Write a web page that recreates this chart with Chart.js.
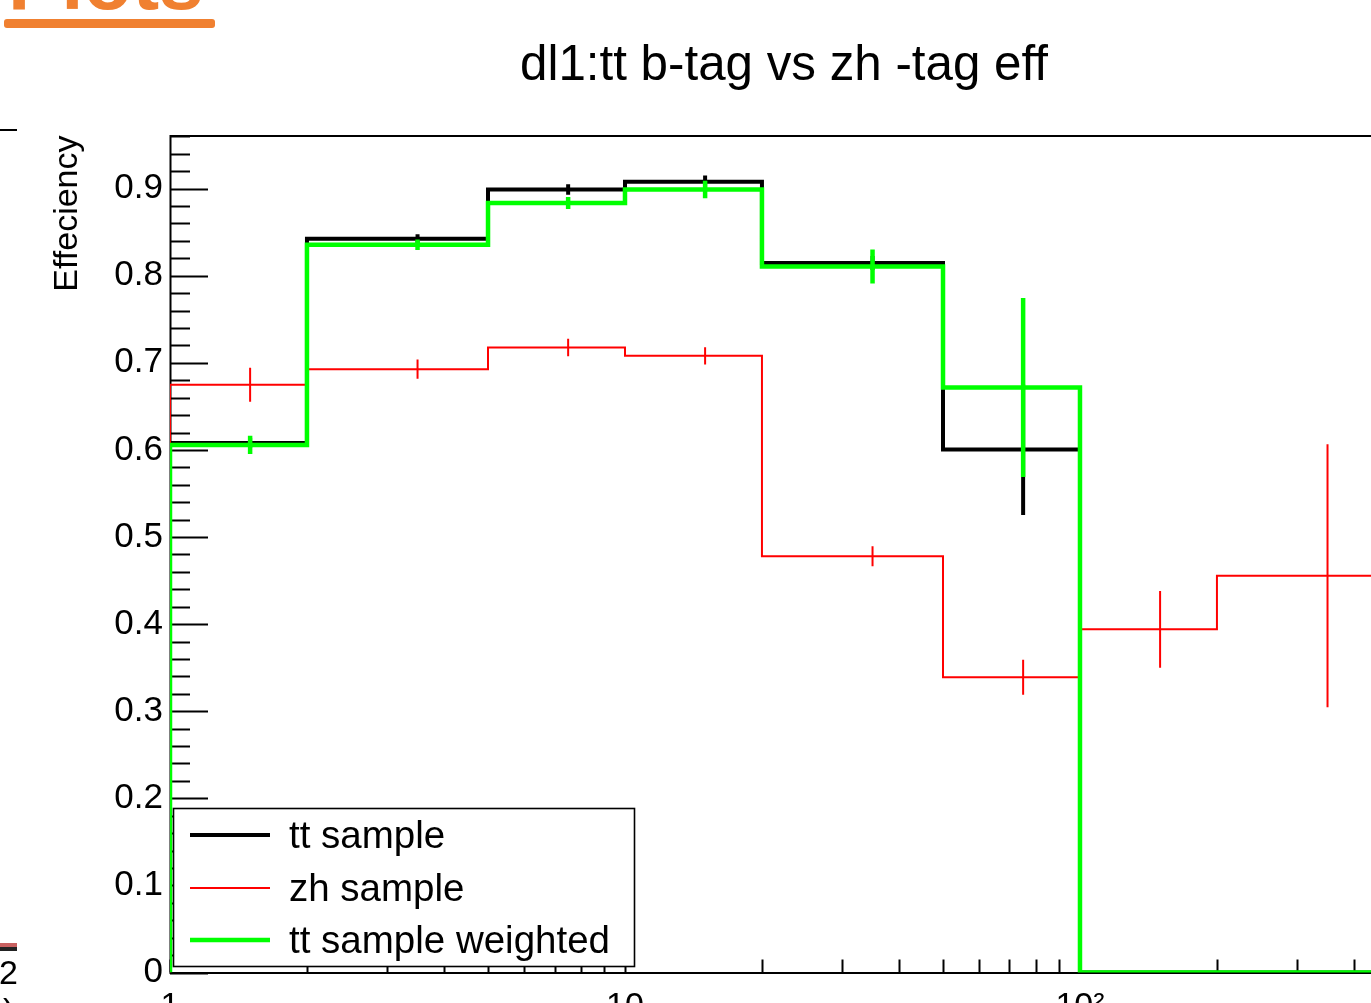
<!DOCTYPE html>
<html>
<head>
<meta charset="utf-8">
<script src="https://cdn.jsdelivr.net/npm/chart.js@4/dist/chart.umd.min.js"></script>
<style>
  html, body { margin: 0; padding: 0; background: #fff; overflow: hidden; width: 1371px; height: 1003px; }
  #wrap { position: absolute; left: 0; top: 0; width: 1420px; height: 1003px; }
  canvas { display: block; }
</style>
</head>
<body>
<div id="wrap"><canvas id="c" width="1420" height="1003"></canvas></div>
<script>
// ---------------- data ----------------
const chartTitle = 'dl1:tt b-tag vs zh -tag eff';
const yTitle = 'Effeciency';
const binEdges = [1, 2, 5, 10, 20, 50, 100, 200, 500];

const ttEff   = [0.608, 0.8425, 0.899, 0.908, 0.8146, 0.6004, 0, 0];
const ttErr   = [0.006, 0.005, 0.006, 0.007, 0.008, 0.075, 0, 0];

const zhEff   = [0.6747, 0.6927, 0.7176, 0.708, 0.478, 0.339, 0.394, 0.4555];
const zhErr   = [0.0195, 0.011, 0.010, 0.010, 0.0115, 0.02, 0.044, 0.151];

const ttwEff  = [0.6057, 0.8356, 0.8835, 0.899, 0.8107, 0.6716, 0, 0];
const ttwErr  = [0.0105, 0.006, 0.007, 0.010, 0.0195, 0.1027, 0, 0];

const yTickValues = [0, 0.1, 0.2, 0.3, 0.4, 0.5, 0.6, 0.7, 0.8, 0.9];
const yTickLabels = ['0', '0.1', '0.2', '0.3', '0.4', '0.5', '0.6', '0.7', '0.8', '0.9'];
const xTickValues = [1, 10, 100];
const xTickLabels = ['1', '10', '10\u00B2'];
const legendLabels = ['tt sample', 'zh sample', 'tt sample weighted'];

// ---------------- build step / error points ----------------
function stepPoints(vals) {
  const pts = [{ x: binEdges[0], y: 0 }];
  for (let i = 0; i < vals.length; i++) {
    pts.push({ x: binEdges[i], y: vals[i] });
    pts.push({ x: binEdges[i + 1], y: vals[i] });
  }
  pts.push({ x: binEdges[vals.length], y: 0 });
  return pts;
}
function errPoints(vals, errs) {
  const pts = [];
  for (let i = 0; i < vals.length; i++) {
    if (!errs[i]) continue;
    const c = (binEdges[i] + binEdges[i + 1]) / 2;
    pts.push({ x: c, y: vals[i] - errs[i] });
    pts.push({ x: c, y: vals[i] + errs[i] });
    pts.push({ x: c, y: null });
  }
  return pts;
}

const FONT = "'Liberation Sans', Arial, Helvetica, sans-serif";
const BLACK = '#000000', RED = '#ff0000', GREEN = '#00ff00';
const W_BLACK = 4, W_RED = 2, W_GREEN = 4.5;

function lineDs(label, data, color, width, order) {
  return {
    label, data, borderColor: color, backgroundColor: color, borderWidth: width,
    pointRadius: 0, pointHoverRadius: 0, tension: 0, spanGaps: false, fill: false,
    borderJoinStyle: 'miter', borderCapStyle: 'butt', order
  };
}

// ---------------- decoration plugin ----------------
const rootStyle = {
  id: 'rootStyle',
  beforeDatasetsDraw(chart) {
    const { ctx, chartArea: ca, scales } = chart;
    const xs = scales.x, ys = scales.y;
    ctx.save();
    // title centred over the plot frame
    ctx.fillStyle = '#000';
    ctx.font = '49.3px ' + FONT;
    ctx.textAlign = 'center';
    ctx.textBaseline = 'alphabetic';
    ctx.fillText(chartTitle, (ca.left + ca.right) / 2, 79.5);

    ctx.strokeStyle = '#000';
    ctx.lineWidth = 2;
    // y ticks (inward)
    for (let k = 0; k <= 48; k++) {
      const v = k * 0.02;
      if (v > ys.max + 1e-9) break;
      const py = Math.round(ys.getPixelForValue(v)) + 0.5;
      const len = (k % 5 === 0) ? 38 : 20;
      ctx.beginPath(); ctx.moveTo(ca.left, py); ctx.lineTo(ca.left + len, py); ctx.stroke();
    }
    // x ticks (inward)
    for (let d = 1; d <= 100; d *= 10) {
      for (let m = 1; m <= 9; m++) {
        const v = m * d;
        if (v > xs.max) break;
        const px = Math.round(xs.getPixelForValue(v)) + 0.5;
        ctx.beginPath(); ctx.moveTo(px, ca.bottom); ctx.lineTo(px, ca.bottom - 13); ctx.stroke();
      }
    }
    // frame
    ctx.beginPath();
    ctx.moveTo(ca.right, ca.top + 0.5); ctx.lineTo(ca.left + 0.5, ca.top + 0.5);
    ctx.lineTo(ca.left + 0.5, ca.bottom + 0.5); ctx.lineTo(ca.right, ca.bottom + 0.5);
    ctx.stroke();
    ctx.restore();
  },
  afterDatasetsDraw(chart) {
    const { ctx, chartArea: ca } = chart;
    ctx.save();
    // legend box
    const bx = ca.left + 3.5, by = 808.5, bw = 461, bh = 158;
    ctx.fillStyle = '#fff';
    ctx.fillRect(bx, by, bw, bh);
    ctx.strokeStyle = '#000';
    ctx.lineWidth = 1.6;
    ctx.strokeRect(bx, by, bw, bh);
    const cols = [BLACK, RED, GREEN], wids = [W_BLACK, W_RED, W_GREEN];
    const rows = [835, 888, 940];
    ctx.font = '38.5px ' + FONT;
    ctx.textBaseline = 'middle';
    ctx.textAlign = 'left';
    for (let i = 0; i < 3; i++) {
      ctx.strokeStyle = cols[i];
      ctx.lineWidth = wids[i];
      ctx.beginPath(); ctx.moveTo(190, rows[i]); ctx.lineTo(270, rows[i]); ctx.stroke();
      ctx.fillStyle = '#000';
      ctx.fillText(legendLabels[i], 289, rows[i] + 2);
    }
    ctx.restore();
  },
  afterDraw(chart) {
    const { ctx } = chart;
    ctx.save();
    // cropped neighbouring page elements
    ctx.fillStyle = '#f08030';
    ctx.font = 'bold 80px ' + FONT;
    ctx.textBaseline = 'alphabetic';
    ctx.textAlign = 'left';
    ctx.fillText('Plots', 8, 9);
    ctx.beginPath();
    if (ctx.roundRect) ctx.roundRect(4, 19, 211, 9, 3); else ctx.rect(4, 19, 211, 9);
    ctx.fill();
    ctx.strokeStyle = '#000'; ctx.lineWidth = 2;
    ctx.beginPath(); ctx.moveTo(0, 130); ctx.lineTo(17, 130); ctx.stroke();
    ctx.fillStyle = '#c86060'; ctx.fillRect(0, 943, 17, 4);
    ctx.fillStyle = '#222'; ctx.fillRect(0, 947, 17, 4);
    ctx.fillStyle = '#000';
    ctx.font = '34px ' + FONT;
    ctx.fillText('2', -1, 984);
    ctx.fillText(')', 3, 1022);
    ctx.restore();
  }
};

// ---------------- chart ----------------
new Chart(document.getElementById('c'), {
  type: 'line',
  data: {
    datasets: [
      lineDs(legendLabels[2], stepPoints(ttwEff), GREEN, W_GREEN, 0),
      lineDs(legendLabels[2] + ' err', errPoints(ttwEff, ttwErr), GREEN, W_GREEN, 1),
      lineDs(legendLabels[1], stepPoints(zhEff), RED, W_RED, 2),
      lineDs(legendLabels[1] + ' err', errPoints(zhEff, zhErr), RED, W_RED, 3),
      lineDs(legendLabels[0], stepPoints(ttEff), BLACK, W_BLACK, 4),
      lineDs(legendLabels[0] + ' err', errPoints(ttEff, ttErr), BLACK, W_BLACK, 5)
    ]
  },
  options: {
    responsive: false,
    animation: false,
    devicePixelRatio: 1,
    parsing: true,
    layout: { padding: { left: 0, right: 22, top: 135.5, bottom: 0 } },
    plugins: {
      legend: { display: false },
      tooltip: { enabled: false },
      title: { display: false }
    },
    scales: {
      x: {
        type: 'logarithmic', position: 'bottom', min: 1, max: 500,
        grid: { display: false, drawTicks: false },
        border: { display: false },
        afterBuildTicks(scale) { scale.ticks = xTickValues.map(v => ({ value: v, major: true })); },
        afterFit(scale) { scale.height = 30.5; },
        ticks: {
          color: '#000', font: { family: FONT, size: 34 }, padding: 14,
          maxRotation: 0, minRotation: 0, autoSkip: false,
          callback: (v, i) => xTickLabels[i]
        }
      },
      y: {
        type: 'linear', position: 'left', min: 0, max: 0.961,
        grid: { display: false, drawTicks: false },
        border: { display: false },
        afterBuildTicks(scale) { scale.ticks = yTickValues.map(v => ({ value: v })); },
        afterFit(scale) { scale.width = 170; },
        ticks: {
          color: '#000', font: { family: FONT, size: 35 }, padding: 7,
          callback: (v, i) => yTickLabels[i]
        },
        title: {
          display: true, text: yTitle, align: 'end', color: '#000',
          font: { family: FONT, size: 34 }, padding: { top: 47, bottom: 0 }
        }
      }
    }
  },
  plugins: [rootStyle]
});
</script>
</body>
</html>
